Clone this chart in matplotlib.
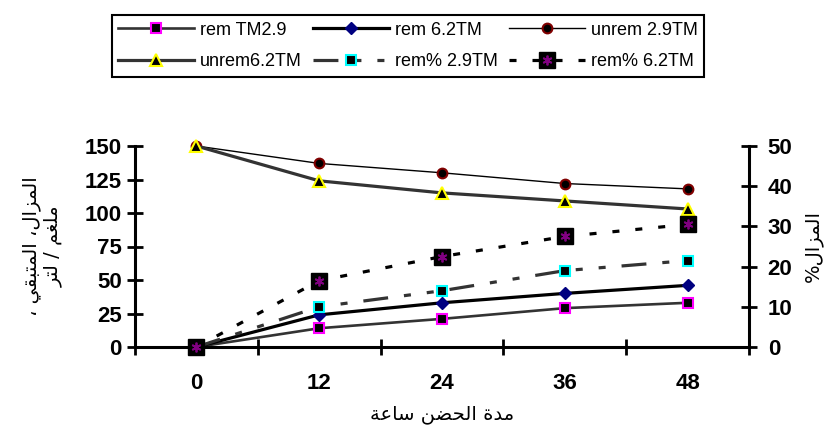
import matplotlib
matplotlib.use("Agg")
import matplotlib.pyplot as plt
import numpy as np

# incubation time (hours) and measured values
hours = ["0", "12", "24", "36", "48"]
rem_29 = [0, 14, 21, 29, 33]
rem_62 = [0, 24, 33, 40, 46]
unrem_29 = [150, 137, 130, 122, 118]
unrem_62 = [150, 124, 115, 109, 103]
remp_29 = [0, 10, 14, 19, 21.5]
remp_62 = [0, 16.5, 22.5, 27.5, 30.5]

# arabic presentation forms: isolated, final, initial, medial
FORMS = {
    'ا': ('\uFE8D', '\uFE8E', None, None),
    'ب': ('\uFE8F', '\uFE90', '\uFE91', '\uFE92'),
    'ة': ('\uFE93', '\uFE94', None, None),
    'ت': ('\uFE95', '\uFE96', '\uFE97', '\uFE98'),
    'ح': ('\uFEA1', '\uFEA2', '\uFEA3', '\uFEA4'),
    'د': ('\uFEA9', '\uFEAA', None, None),
    'ر': ('\uFEAD', '\uFEAE', None, None),
    'ز': ('\uFEAF', '\uFEB0', None, None),
    'س': ('\uFEB1', '\uFEB2', '\uFEB3', '\uFEB4'),
    'ض': ('\uFEBD', '\uFEBE', '\uFEBF', '\uFEC0'),
    'ع': ('\uFEC9', '\uFECA', '\uFECB', '\uFECC'),
    'غ': ('\uFECD', '\uFECE', '\uFECF', '\uFED0'),
    'ق': ('\uFED5', '\uFED6', '\uFED7', '\uFED8'),
    'ل': ('\uFEDD', '\uFEDE', '\uFEDF', '\uFEE0'),
    'م': ('\uFEE1', '\uFEE2', '\uFEE3', '\uFEE4'),
    'ن': ('\uFEE5', '\uFEE6', '\uFEE7', '\uFEE8'),
    'ي': ('\uFEF1', '\uFEF2', '\uFEF3', '\uFEF4'),
}


def shape_line(text):
    out = []
    for i, ch in enumerate(text):
        if ch not in FORMS:
            out.append(ch)
            continue
        iso, fin, ini, med = FORMS[ch]
        prev = text[i - 1] if i > 0 else ''
        nxt = text[i + 1] if i < len(text) - 1 else ''
        jp = prev in FORMS and FORMS[prev][2] is not None
        jn = ini is not None and nxt in FORMS
        if jp and jn:
            out.append(med)
        elif jp:
            out.append(fin)
        elif jn:
            out.append(ini)
        else:
            out.append(iso)
    return ''.join(reversed(out))


def shape(text):
    return '\n'.join(shape_line(l) for l in text.split('\n'))


plt.rcParams['font.family'] = ['Liberation Sans', 'DejaVu Sans']
plt.rcParams['font.weight'] = 'bold'

fig = plt.figure(figsize=(8.29, 4.33), dpi=100)
ax = fig.add_axes([135/829, 1-347/433, (749-135)/829, (347-146)/433])
ax2 = ax.twinx()

x = np.arange(len(hours))
gray = '#333333'

l1, = ax.plot(x, rem_29, color=gray, lw=1.9, marker='s', ms=6.5, mfc='black',
              mec='#FF00FF', mew=1.5, clip_on=False)
l2, = ax.plot(x, rem_62, color='black', lw=2.3, marker='D', ms=6.5, mfc='#000080',
              mec='#000080', clip_on=False)
l3, = ax.plot(x, unrem_29, color='black', lw=1.0, marker='o', ms=7, mfc='black',
              mec='#800000', mew=1.5, clip_on=False)
l4, = ax.plot(x, unrem_62, color=gray, lw=2.3, marker='^', ms=8, mfc='black',
              mec='#FFFF00', mew=1.5, clip_on=False)
l5, = ax2.plot(x, remp_29, color=gray, lw=2.3, dashes=(7.8, 5, 2.2, 5, 2.2, 5),
               marker='s', ms=6.5, mfc='black', mec='#00FFFF', mew=1.5, clip_on=False)
l6, = ax2.plot(x, remp_62, color='black', lw=2.3, dashes=(2.2, 5), marker='s',
               ms=11.5, mfc='black', mec='black', clip_on=False)
l6x, = ax2.plot(x, remp_62, ls='none', marker=(6, 2, 0), ms=7, mec='#800080',
                mew=1.3, clip_on=False)

ax.set_xlim(-0.5, 4.5)
ax.set_ylim(0, 150)
ax2.set_ylim(0, 50)
ax.set_yticks(np.arange(0, 151, 25))
ax2.set_yticks(np.arange(0, 51, 10))
ax.set_xticks(np.arange(-0.5, 5, 1))
ax.set_xticklabels([])
ax.set_xticks(x, minor=True)
ax.set_xticklabels(hours, minor=True)

for a in (ax, ax2):
    for s in a.spines.values():
        s.set_linewidth(2.2)
    a.spines['top'].set_visible(False)
ax.spines['right'].set_visible(False)
ax2.spines['left'].set_visible(False)
ax2.spines['bottom'].set_visible(False)

ax.tick_params(axis='y', direction='inout', length=11, width=2, labelsize=16, pad=4)
ax2.tick_params(axis='y', direction='inout', length=11, width=2, labelsize=16, pad=8)
ax.tick_params(axis='x', which='major', direction='inout', length=11, width=2)
ax.tick_params(axis='x', which='minor', length=0, labelsize=16, pad=19)

ax.set_xlabel(shape('مدة الحضن ساعة'), fontsize=14, labelpad=8,
              family=['DejaVu Sans'])
ax.set_ylabel(shape('المزال، المتبقي ،\nملغم / لتر'), fontsize=14, labelpad=16,
              family=['DejaVu Sans'], linespacing=1.1)
ax2.set_ylabel(shape('المزال%'), fontsize=14, rotation=90, labelpad=8,
               family=['DejaVu Sans'])

handles = [l1, l4, l2, l5, l3, (l6, l6x)]
labels = ['rem TM2.9', 'unrem6.2TM', 'rem 6.2TM', 'rem% 2.9TM', 'unrem 2.9TM', 'rem% 6.2TM']
leg = fig.legend(handles, labels, loc='center', bbox_to_anchor=(408/829, 1-46/433),
                 ncol=3, fancybox=False, edgecolor='black', framealpha=1,
                 prop={'weight': 'normal', 'size': 13}, handlelength=4.2,
                 handletextpad=0.35, columnspacing=0.6, labelspacing=0.8,
                 borderpad=0.35)
leg.get_frame().set_linewidth(1.5)

fig.savefig('out.png', dpi=100)
